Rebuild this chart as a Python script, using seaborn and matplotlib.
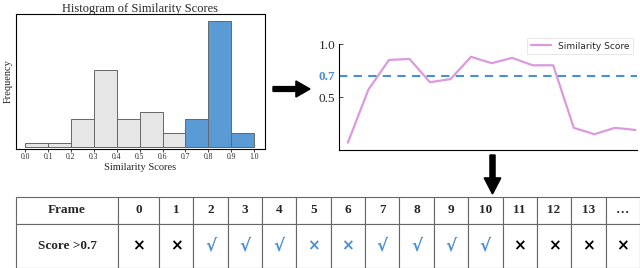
import numpy as np
import pandas as pd
import seaborn as sns
import matplotlib.pyplot as plt
from matplotlib.patches import FancyArrow

# histogram data (bin centres, heights)
bin_centers = [0.05, 0.15, 0.25, 0.35, 0.45, 0.55, 0.65, 0.75, 0.85, 0.95]
bin_counts = [1, 1, 6, 16.5, 6, 7.5, 3, 6, 27, 3]
hist_ticks = [0.0, 0.1, 0.2, 0.3, 0.4, 0.5, 0.6, 0.7, 0.8, 0.9, 1.0]

# per-frame similarity
frames = list(range(15))
scores = [0.07, 0.57, 0.85, 0.86, 0.64, 0.67, 0.88, 0.82, 0.87, 0.80, 0.80, 0.21, 0.15, 0.21, 0.19]
threshold = 0.7

# table
frame_labels = ['0', '1', '2', '3', '4', '5', '6', '7', '8', '9', '10', '11', '12', '13', '\u2026']
passed = [False, False, True, True, True, False, False, True, True, True, True, False, False, False, False]
highlight = [False, False, True, True, True, True, True, True, True, True, True, False, False, False, False]

BLUE = '#4a8fd6'
SERIF = 'Liberation Serif'

sns.set_style('white')
plt.rcParams['font.family'] = ['Liberation Serif', 'DejaVu Sans']

fig = plt.figure(figsize=(6.4, 2.68), dpi=100)

# ---- histogram
ax1 = fig.add_axes([0.025, 0.444, 0.389, 0.504])
hist_df = pd.DataFrame({'score': bin_centers, 'count': bin_counts})
hist_df['high'] = hist_df['score'] > threshold
sns.histplot(data=hist_df, x='score', weights='count', hue='high',
             binwidth=0.1, binrange=(0, 1), palette={False: '#e6e6e6', True: '#5b9bd5'},
             alpha=1, edgecolor='#666666', linewidth=0.7, legend=False, ax=ax1)
ax1.set_xlim(-0.04, 1.047)
ax1.set_ylim(-0.35, 28.4)
ax1.set_xticks(hist_ticks)
ax1.set_xticklabels([f'{t:.1f}' for t in hist_ticks], fontsize=5.5)
ax1.set_yticks([])
ax1.tick_params(axis='x', length=2, width=0.6, pad=1, bottom=True)
ax1.set_title('Histogram of Similarity Scores', fontsize=9, pad=1.5)
ax1.set_xlabel('Similarity Scores', fontsize=7.5, labelpad=1)
ax1.set_ylabel('Frequency', fontsize=7.5, labelpad=2)
for s in ax1.spines.values():
    s.set_visible(True)
    s.set_color('black')
    s.set_linewidth(0.8)

# ---- line chart
ax2 = fig.add_axes([0.530, 0.440, 0.466, 0.3955])
sns.lineplot(x=frames, y=scores, color='#dd99dd', linewidth=1.6,
             label='Similarity Score', ax=ax2)
ax2.axhline(threshold, color=BLUE, linestyle=(0, (4, 3)), linewidth=1.5)
ax2.set_xlim(-0.42, 14.1)
ax2.set_ylim(0, 1.0)
ax2.set_xticks([])
ax2.set_yticks([0.5, threshold, 1.0])
ax2.set_yticklabels(['0.5', '0.7', '1.0'], fontsize=9.5)
ax2.get_yticklabels()[1].set_color(BLUE)
ax2.get_yticklabels()[1].set_fontweight('bold')
ax2.tick_params(axis='y', direction='in', length=3, width=0.6, left=True, pad=3)
sns.despine(ax=ax2)
for side in ['left', 'bottom']:
    ax2.spines[side].set_linewidth(0.8)
    ax2.spines[side].set_color('black')
leg = ax2.legend(loc='upper right', bbox_to_anchor=(1.0, 1.1),
                 prop={'family': 'DejaVu Sans', 'size': 6.5}, handlelength=2.2,
                 borderpad=0.4, frameon=True, fancybox=False)
leg.get_frame().set_edgecolor('#dddddd')
leg.get_frame().set_linewidth(0.6)

# ---- arrows
fig.patches.append(FancyArrow(
    273 / 640, 1 - 89 / 268, 37 / 640, 0, width=0.018, head_width=0.06,
    head_length=0.022, length_includes_head=True, color='black',
    transform=fig.transFigure, figure=fig))
fig.patches.append(FancyArrow(
    492.5 / 640, 1 - 155 / 268, 0, -39 / 268, width=0.008, head_width=0.026,
    head_length=0.06, length_includes_head=True, color='black',
    transform=fig.transFigure, figure=fig))

# ---- table
ax3 = fig.add_axes([0.025, 0.0, 0.975, 1 - 197 / 268])
ax3.axis('off')
marks = ['\u221a' if p else '\u00d7' for p in passed]
cell_text = [['Frame'] + frame_labels, ['Score >0.7'] + marks]
col_px = [103, 41] + [34.6] * 14
col_w = [c / sum(col_px) for c in col_px]
tbl = ax3.table(cellText=cell_text, colWidths=col_w, bbox=[0, 0, 1, 1], cellLoc='center')
tbl.auto_set_font_size(False)
for (r, c), cell in tbl.get_celld().items():
    cell.set_height(0.38 if r == 0 else 0.62)
    cell.set_edgecolor('#666666')
    cell.set_linewidth(0.8)
    txt = cell.get_text()
    if r == 0 or c == 0:
        txt.set_fontsize(9.5)
        txt.set_fontweight('bold')
        txt.set_fontfamily(SERIF)
    else:
        ok = passed[c - 1]
        txt.set_fontweight('bold')
        txt.set_fontfamily('DejaVu Sans')
        txt.set_fontsize(12 if ok else 11)
        txt.set_color(BLUE if highlight[c - 1] else 'black')

fig.savefig('out.png', dpi=100)
